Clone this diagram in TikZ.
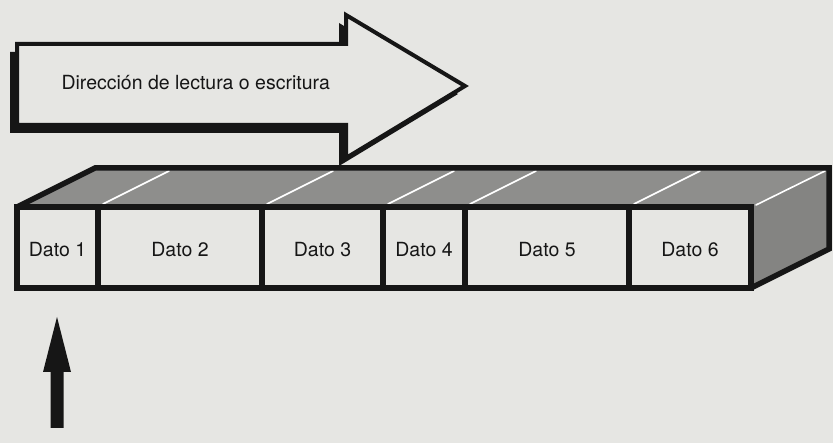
\documentclass[tikz,border=0pt]{standalone}
\usepackage{fontspec}
\setmainfont{TeX Gyre Heros}
\definecolor{bg}{HTML}{E6E6E3}
\definecolor{topface}{HTML}{8E8E8C}
\definecolor{sideface}{HTML}{848482}
\definecolor{ink}{HTML}{161616}
\tikzset{
  lbl/.style={font=\fontsize{19.5}{23}\selectfont, text=ink},
  cell/.style={lbl, draw=ink, line width=5.5pt, fill=bg, inner sep=0pt,
    minimum height=81pt, text height=19pt, text depth=0pt},
  edge/.style={draw=ink, line width=5.5pt, line join=miter},
  hilite/.style={draw=white, line width=1.6pt, line cap=round}
}
\begin{document}
\begin{tikzpicture}[x=1pt,y=-1pt]
\fill[bg] (0,0) rectangle (833,443);
\useasboundingbox (0,0) rectangle (833,443);
% big direction arrow: shadow then face
\fill[ink, xshift=-7pt, yshift=-8pt] (17,44) -- (346,44) -- (346,15) -- (465,86) -- (346,158) -- (346,125) -- (17,125) -- cycle;
\path[edge, line width=4pt, fill=bg] (17,44) -- (346,44) -- (346,15) -- (465,86) -- (346,158) -- (346,125) -- (17,125) -- cycle;
\node[lbl, anchor=base west] (dir) at (58,90) {Dirección de lectura o escritura};
% prism faces
\fill[topface] (17,207) -- (95,168) -- (829,168) -- (751,207) -- cycle;
\fill[sideface] (751,207) -- (829,168) -- (829,249) -- (751,288) -- cycle;
\draw[hilite] (756,205) -- (825,171);
\foreach \d in {98,262,383,465,629}
  \draw[hilite] (\d+5,204) -- (\d+71,171);
% cells
\node[cell, minimum width=81pt]  (d1) at (57.5,247.5) {Dato 1};
\node[cell, minimum width=164pt] (d2) at (180,247.5)  {Dato 2};
\node[cell, minimum width=121pt] (d3) at (322.5,247.5){Dato 3};
\node[cell, minimum width=82pt]  (d4) at (424,247.5)  {Dato 4};
\node[cell, minimum width=164pt] (d5) at (547,247.5)  {Dato 5};
\node[cell, minimum width=122pt] (d6) at (690,247.5)  {Dato 6};
% prism silhouette
\draw[edge] (17,207) -- (95,168) -- (829,168) -- (829,249) -- (751,288);
% pointer arrow
\fill[ink] (57,317) -- (71,372) -- (63.5,372) -- (63.5,428) -- (50.5,428) -- (50.5,372) -- (43,372) -- cycle;
\end{tikzpicture}
\end{document}
